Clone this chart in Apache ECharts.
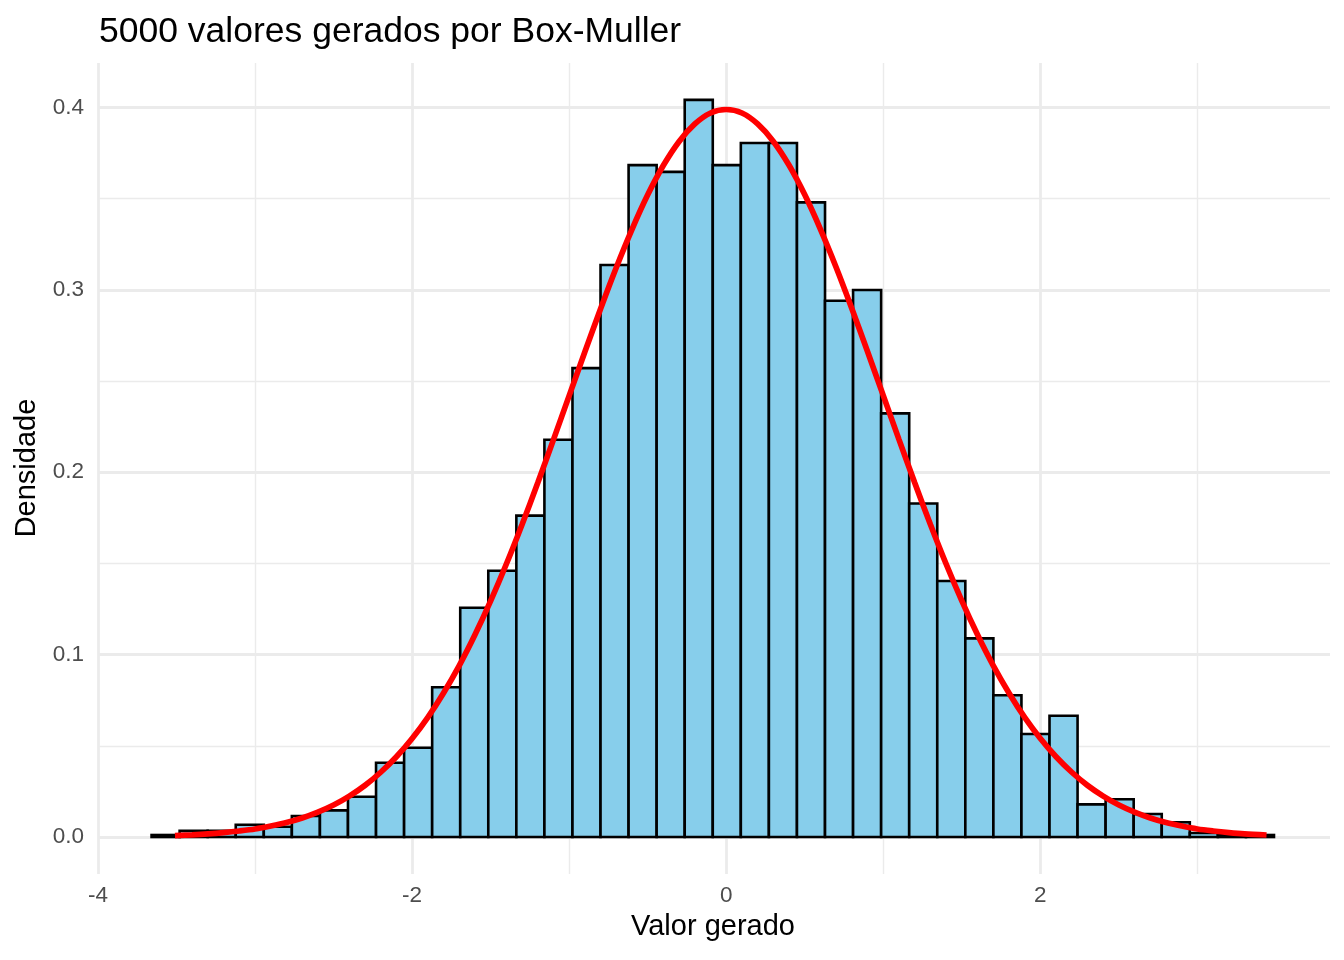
<!DOCTYPE html>
<html>
<head>
<meta charset="utf-8">
<title>Box-Muller</title>
<script src="https://cdn.jsdelivr.net/npm/echarts@6.0.0/dist/echarts.min.js"></script>
<style>
  html, body { margin: 0; padding: 0; background: #fff; }
  #main { width: 1344px; height: 960px; }
</style>
</head>
<body>
<div id="main"></div>
<script>
  // histogram: 40 bins, left edge + width, density per bin
  var binStart = -3.659;
  var binWidth = 0.17866;
  var density = [
    0.0011, 0.0034, 0.0034, 0.0067, 0.0056, 0.0115, 0.0146, 0.0221, 0.0407, 0.0489,
    0.0821, 0.1257, 0.1460, 0.1762, 0.2178, 0.2571, 0.3136, 0.3684, 0.3647, 0.4042,
    0.3684, 0.3805, 0.3805, 0.3480, 0.2940, 0.2999, 0.2323, 0.1829, 0.1404, 0.1089,
    0.0777, 0.0565, 0.0665, 0.0179, 0.0207, 0.0126, 0.0081, 0.0022, 0.0011, 0.0011
  ];

  // red curve
  var curveX = [-3.51, -3.4, -3.3, -3.2, -3.1, -3.0, -2.9, -2.8, -2.7, -2.6, -2.5, -2.4, -2.3, -2.2, -2.1,
    -2.0, -1.9, -1.8, -1.7, -1.6, -1.5, -1.4, -1.3, -1.2, -1.1, -1.0, -0.9, -0.8, -0.7, -0.6,
    -0.5, -0.4, -0.3, -0.2, -0.1, 0, 0.1, 0.2, 0.3, 0.4, 0.5, 0.6, 0.7, 0.8, 0.9,
    1.0, 1.1, 1.2, 1.3, 1.4, 1.5, 1.6, 1.7, 1.8, 1.9, 2.0, 2.1, 2.2, 2.3, 2.4,
    2.5, 2.6, 2.7, 2.8, 2.9, 3.0, 3.1, 3.2, 3.3, 3.44];
  var curveY = [0.0008, 0.0012, 0.0017, 0.0024, 0.0033, 0.0044, 0.0060, 0.0079, 0.0104, 0.0136, 0.0175,
    0.0224, 0.0283, 0.0355, 0.0440, 0.0540, 0.0656, 0.0790, 0.0940, 0.1109, 0.1295, 0.1497, 0.1714,
    0.1942, 0.2179, 0.2420, 0.2661, 0.2897, 0.3123, 0.3332, 0.3521, 0.3683, 0.3814, 0.3910, 0.3970,
    0.3989, 0.3970, 0.3910, 0.3814, 0.3683, 0.3521, 0.3332, 0.3123, 0.2897, 0.2661, 0.2420, 0.2179,
    0.1942, 0.1714, 0.1497, 0.1295, 0.1109, 0.0940, 0.0790, 0.0656, 0.0540, 0.0440, 0.0355, 0.0283,
    0.0224, 0.0175, 0.0136, 0.0104, 0.0079, 0.0060, 0.0044, 0.0033, 0.0024, 0.0017, 0.0011];

  var xTicks = [-4, -2, 0, 2];
  var yTicks = [0, 0.1, 0.2, 0.3, 0.4];

  var titleText = '5000 valores gerados por Box-Muller';
  var xTitle = 'Valor gerado';
  var yTitle = 'Densidade';

  var fontFam = '"Liberation Sans", Arial, Helvetica, sans-serif';
  var gridCol = '#EBEBEB';
  var tickCol = '#4D4D4D';

  var xMin = -4, xMax = 3.844;
  var yMax = 0.4244;

  var bars = density.map(function (d, i) {
    return [binStart + i * binWidth, binStart + (i + 1) * binWidth, d];
  });
  var curve = curveX.map(function (x, i) {
    return [x, curveY[i]];
  });

  var chart = echarts.init(document.getElementById('main'), null, { renderer: 'canvas' });

  var option = {
    backgroundColor: '#ffffff',
    animation: false,
    title: {
      text: titleText,
      left: 94,
      top: 9,
      textStyle: { fontFamily: fontFam, fontSize: 35.5, fontWeight: 'normal', color: '#000' }
    },
    grid: [
      // whole panel (incl. the bit below y = 0): vertical grid lines + x labels
      { left: 98, top: 63, width: 1232, height: 811 },
      // data area, bottom at y = 0
      { left: 98, top: 63, width: 1232, height: 774 }
    ],
    xAxis: [{
      gridIndex: 0,
      type: 'value',
      min: xMin,
      max: xMax,
      interval: 2,
      axisLine: { show: false },
      axisTick: { show: false },
      minorTick: { show: false, splitNumber: 2 },
      axisLabel: {
        color: tickCol, fontFamily: fontFam, fontSize: 22.5, margin: 10,
        customValues: xTicks,
        formatter: function (v) { return String(v); }
      },
      splitLine: { show: true, showMaxLine: false, lineStyle: { color: gridCol, width: 2.8 } },
      minorSplitLine: { show: true, lineStyle: { color: gridCol, width: 1.4 } }
    }, {
      gridIndex: 1,
      type: 'value',
      min: xMin,
      max: xMax,
      show: false
    }],
    yAxis: [{
      gridIndex: 0,
      type: 'value',
      min: 0,
      max: 1,
      show: false
    }, {
      gridIndex: 1,
      type: 'value',
      min: 0,
      max: yMax,
      interval: 0.1,
      axisLine: { show: false },
      axisTick: { show: false },
      minorTick: { show: false, splitNumber: 2 },
      axisLabel: {
        color: tickCol, fontFamily: fontFam, fontSize: 22.5, margin: 14,
        customValues: yTicks,
        formatter: function (v) { return v.toFixed(1); }
      },
      splitLine: { show: true, showMaxLine: false, lineStyle: { color: gridCol, width: 2.8 } },
      minorSplitLine: { show: true, lineStyle: { color: gridCol, width: 1.4 } }
    }],
    graphic: [{
      type: 'text',
      x: 713,
      y: 927,
      style: {
        text: xTitle, fontFamily: fontFam, fontSize: 29, fill: '#000',
        align: 'center', verticalAlign: 'middle'
      }
    }, {
      type: 'text',
      x: 27,
      y: 468,
      rotation: Math.PI / 2,
      style: {
        text: yTitle, fontFamily: fontFam, fontSize: 29, fill: '#000',
        align: 'center', verticalAlign: 'middle'
      }
    }],
    series: [{
      type: 'custom',
      xAxisIndex: 1,
      yAxisIndex: 1,
      data: bars,
      encode: { x: [0, 1], y: 2 },
      renderItem: function (params, api) {
        var p0 = api.coord([api.value(0), 0]);
        var p1 = api.coord([api.value(1), api.value(2)]);
        return {
          type: 'rect',
          shape: { x: p0[0], y: p1[1], width: p1[0] - p0[0], height: p0[1] - p1[1] },
          style: { fill: '#87CEEB', stroke: '#000000', lineWidth: 2.6 }
        };
      }
    }, {
      type: 'line',
      xAxisIndex: 1,
      yAxisIndex: 1,
      data: curve,
      smooth: 0.3,
      showSymbol: false,
      clip: false,
      z: 5,
      lineStyle: { color: '#FF0000', width: 5.7 }
    }]
  };

  chart.setOption(option);
</script>
</body>
</html>
